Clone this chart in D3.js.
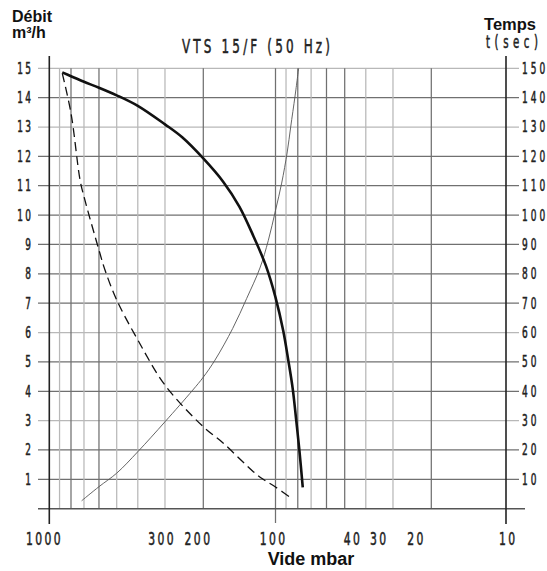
<!DOCTYPE html>
<html><head><meta charset="utf-8">
<script src="https://cdn.jsdelivr.net/npm/d3@7"></script>
<style>body{margin:0;background:#fff}</style>
</head><body>
<svg id="c" width="547" height="571"></svg>
<script>
// ---- data ----
const title = "VTS 15/F (50 Hz)";
const leftTicks = [1,2,3,4,5,6,7,8,9,10,11,12,13,14,15];
const rightTicks = [10,20,30,40,50,60,70,80,90,100,110,120,130,140,150];
const xGrid = [900,800,700,600,500,400,300,200,90,80,70,60,50,40,30,20];
const xLabels = [1000,300,200,100,40,30,20,10];
// Débit (m3/h) vs vide (mbar) – thick line
const debitMbar = [875,800,700,600,500,400,300,250,200,165,141.5,123.7,109.6,100,92.5,88.0,84.2,81.4,78.8,76.1];
const debitVal  = [14.86,14.73,14.54,14.34,14.08,13.72,13.09,12.65,11.93,11.13,10.29,9.29,8.27,7.2,6.05,5.06,4.10,3.07,2.02,0.73];
// dashed line (left scale)
const dashMbar = [875,800,729,700,600,564,500,400,300,200,165,123.7,112.5,100,84.2];
const dashVal  = [14.83,13.47,11.2,10.63,8.81,8.13,7.11,5.75,4.21,2.79,2.23,1.26,1.0,0.74,0.32];
// Temps t(sec) – thin line (right scale)
const tempsMbar = [717,600,500,400,300,223.6,200,178.8,150.8,131.9,116.1,107.2,100,94.0,88.9,85.9,82.2,79.3];
const tempsSec  = [2.7,7.5,12.1,19.4,29.6,40.4,44.8,50.6,61.4,71.6,82.0,91.3,101.6,110.9,121.5,130.0,140.6,150];

// ---- layout ----
const svg = d3.select("#c");
const x = d3.scaleLog().domain([1000,500,200,100,50,20,10]).range([49.3,116.7,203.3,275.5,344.7,431.3,506]);
const yL = d3.scaleLinear().domain([0,15]).range([508.7,68.3]);
const yR = d3.scaleLinear().domain([0,150]).range([508.7,68.3]);
const numFont = "'DejaVu Sans',sans-serif";
const boldFont = "'Liberation Sans',Arial,sans-serif";
const lightH = new Set([15,13,6,3]);
const lightV = new Set([900,700,500,400,300,90,70,40,30]);
const dark = "#707070", light = "#b8b8b8";
const SX = 0.6;
const numStyle = s => s.attr("font-family",numFont).attr("fill","#222")
  .attr("stroke","#222").attr("stroke-width",0.55);

// horizontal grid
svg.append("g").selectAll("line").data(leftTicks).join("line")
  .attr("x1",38).attr("x2",519).attr("y1",d=>yL(d)).attr("y2",d=>yL(d))
  .attr("stroke",d=>lightH.has(d)?light:dark).attr("stroke-width",1.25);
// vertical grid
svg.append("g").selectAll("line").data(xGrid).join("line")
  .attr("x1",d=>x(d)).attr("x2",d=>x(d)).attr("y1",yL(15)).attr("y2",yL(0))
  .attr("stroke",d=>lightV.has(d)?light:dark).attr("stroke-width",1.25);
// 100 major gridline + tick
svg.append("g").selectAll("line").data([100]).join("line")
  .attr("x1",d=>x(d)).attr("x2",d=>x(d)).attr("y1",yL(15)).attr("y2",523)
  .attr("stroke",dark).attr("stroke-width",1.25);
// x axis line
svg.append("line").attr("x1",38).attr("x2",525).attr("y1",yL(0)).attr("y2",yL(0))
  .attr("stroke","#555").attr("stroke-width",1.5);
// left & right axes
svg.append("g").selectAll("line").data([1000,10]).join("line")
  .attr("x1",d=>x(d)).attr("x2",d=>x(d)).attr("y1",56).attr("y2",524)
  .attr("stroke","#222").attr("stroke-width",1.6);

const spaced = (gap) => function(d){ d3.select(this).selectAll("tspan").data(String(d).split("")).join("tspan")
     .attr("dx",(c,i)=>i?gap:0).text(c=>c); };
// left labels
svg.append("g").selectAll("text").data(leftTicks).join("text")
  .attr("transform",d=>`translate(31,${yL(d)}) scale(${SX},1)`).attr("dy","0.36em").attr("text-anchor","end")
  .attr("font-size",15).call(numStyle).each(spaced(4));
// right labels
svg.append("g").selectAll("text").data(rightTicks).join("text")
  .attr("transform",d=>`translate(522,${yR(d)}) scale(${SX},1)`).attr("dy","0.36em").attr("text-anchor","start")
  .attr("font-size",15).call(numStyle).each(spaced(5));
// bottom labels
const nudge = {1000:-6,300:-4,200:-6,100:-3,40:-14,30:-15,20:-16,10:1};
svg.append("g").selectAll("text").data(xLabels).join("text")
  .attr("transform",d=>`translate(${x(d)+nudge[d]},545) scale(${SX},1)`).attr("text-anchor","middle")
  .attr("font-size",18).call(numStyle).each(spaced(4));

// curves
const line = d3.line().curve(d3.curveCatmullRom.alpha(0.5));
const pts = (ms, vs, ys) => ms.map((m,i)=>[x(m), ys(vs[i])]);
svg.append("path").attr("d",line(pts(tempsMbar,tempsSec,yR)))
  .attr("fill","none").attr("stroke","#555").attr("stroke-width",0.9);
svg.append("path").attr("d",line(pts(dashMbar,dashVal,yL)))
  .attr("fill","none").attr("stroke","#111").attr("stroke-width",1.3).attr("stroke-dasharray","9,5");
svg.append("path").attr("d",line(pts(debitMbar,debitVal,yL)))
  .attr("fill","none").attr("stroke","#111").attr("stroke-width",2.6);

// titles
svg.append("text").attr("transform",`translate(256,53) scale(${SX},1)`).attr("text-anchor","middle")
  .attr("font-size",20).call(numStyle)
  .attr("textLength",148/SX).attr("lengthAdjust","spacing")
  .text(title);
svg.append("text").attr("x",12).attr("y",22).attr("font-family",boldFont).attr("font-weight","bold")
  .attr("font-size",16).attr("fill","#111").text("Débit");
svg.append("text").attr("x",12).attr("y",38).attr("font-family",boldFont).attr("font-weight","bold")
  .attr("font-size",16).attr("fill","#111").text("m³/h");
svg.append("text").attr("x",536).attr("y",30).attr("text-anchor","end").attr("font-family",boldFont).attr("font-weight","bold")
  .attr("font-size",16.5).attr("fill","#111").text("Temps");
svg.append("text").attr("transform",`translate(538,48) scale(${SX},1)`).attr("text-anchor","end")
  .attr("font-size",17).call(numStyle).attr("textLength",52/SX).attr("lengthAdjust","spacing").text("t(sec)");
svg.append("text").attr("x",311).attr("y",565).attr("text-anchor","middle").attr("font-family",boldFont).attr("font-weight","bold")
  .attr("font-size",18).attr("fill","#111").text("Vide mbar");
</script>
</body></html>
